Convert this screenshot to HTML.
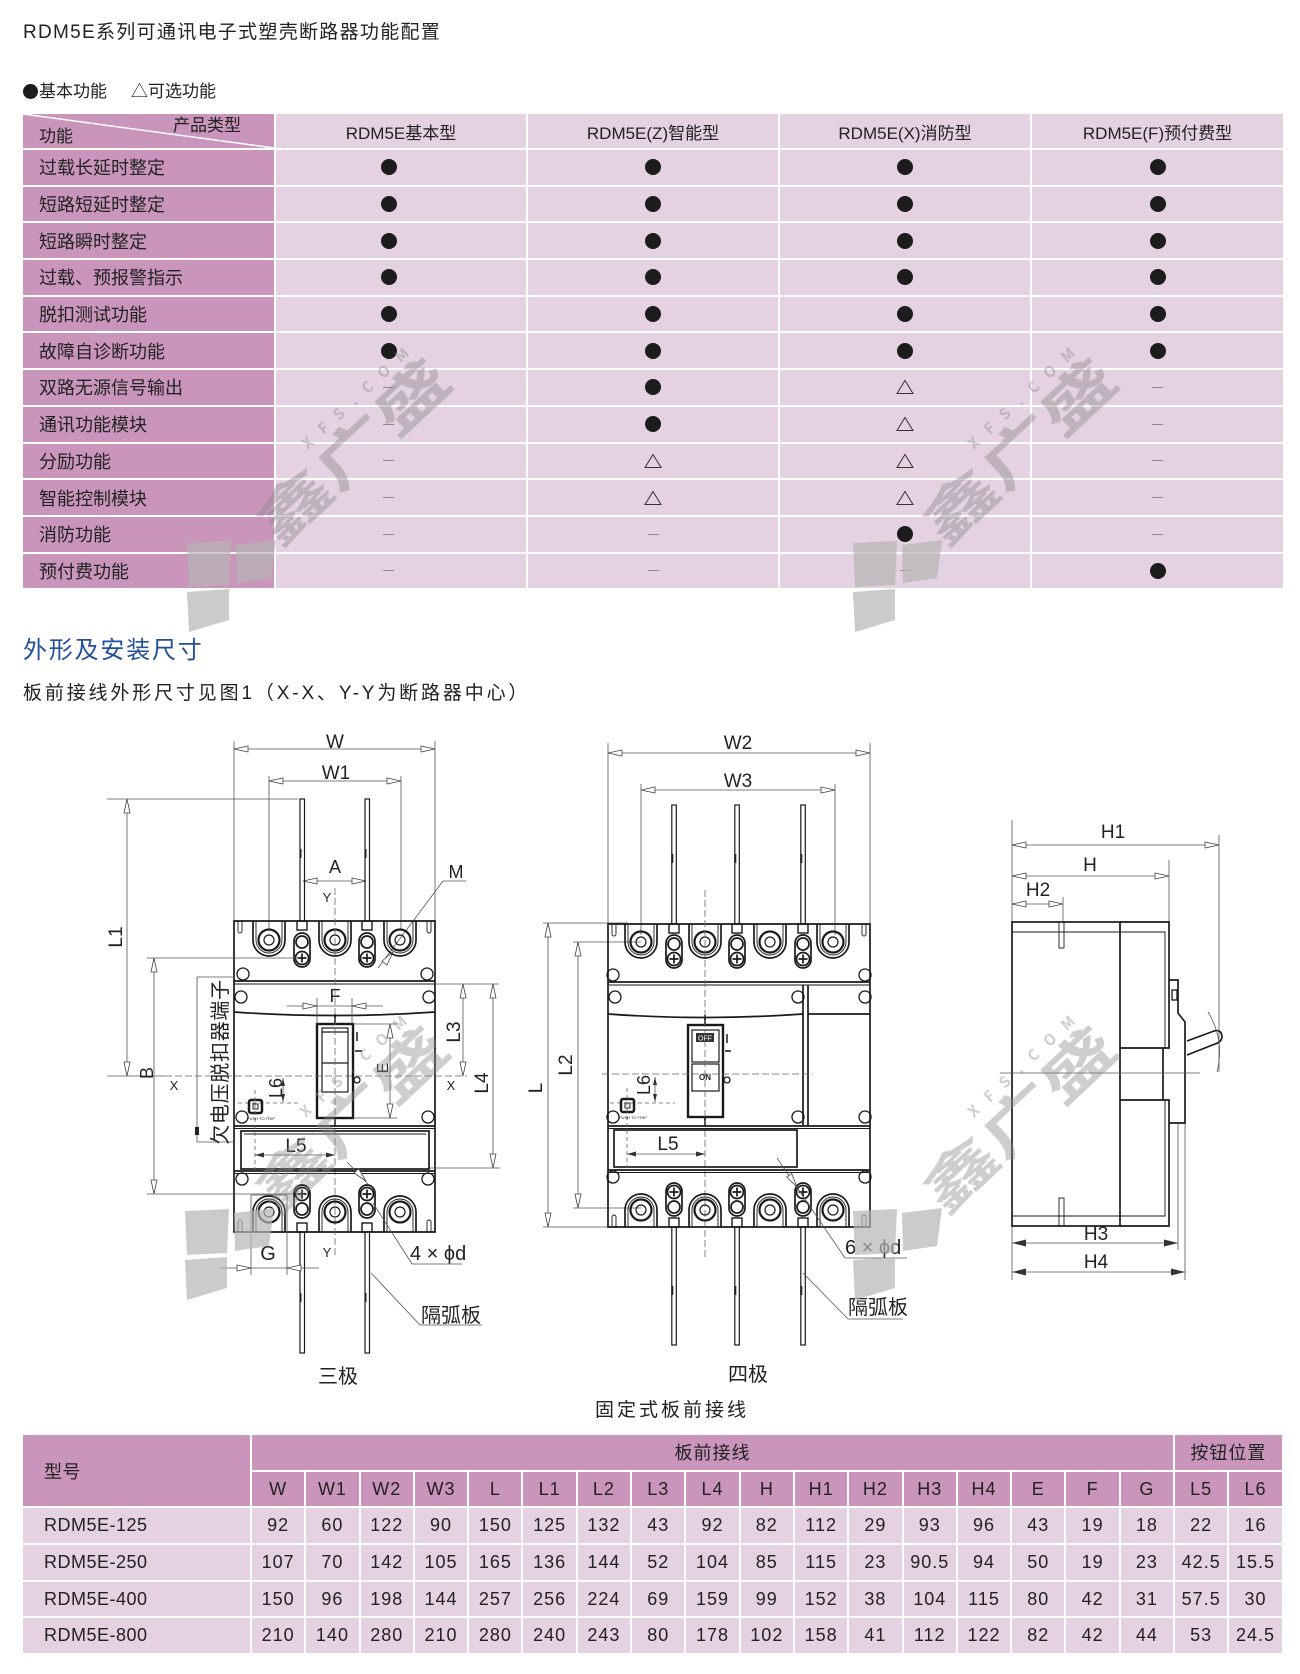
<!DOCTYPE html>
<html><head><meta charset="utf-8">
<style>
*{margin:0;padding:0;box-sizing:border-box}
body{width:1300px;height:1674px;background:#fff;position:relative;overflow:hidden;font-family:"Liberation Sans","Noto Sans CJK SC",sans-serif;color:#222}
.abs{position:absolute;white-space:nowrap}
#t1{position:absolute;left:23px;top:114px;display:grid;grid-template-columns:251px 250px 250px 250px 251px;grid-template-rows:34px repeat(12,34.7px);gap:2px}
#t1>div{background:#e4d1e1;display:flex;align-items:center;justify-content:center;font-size:17px;color:#222}
#t1>div.h{background:#c995ba;justify-content:flex-start;padding-left:16px;font-size:18px}
#t1>div.o{padding-right:25px}
.dot{display:block;width:16px;height:16px;border-radius:50%;background:#1c1c1c}
.ds{display:block;width:11px;height:1px;background:#8a8a8a}
#t2{position:absolute;left:23px;top:1435px;display:grid;grid-template-columns:227px repeat(19,52.3px);grid-template-rows:repeat(6,34.7px);gap:2px}
#t2>div{background:#e4d1e1;display:flex;align-items:center;justify-content:center;font-size:18px;letter-spacing:1px;color:#222}
#t2>div.m{background:#c995ba}
#t2>div.l{justify-content:flex-start;padding-left:21px;letter-spacing:0.5px}
.lgd{display:inline-block;width:15px;height:15px;border-radius:50%;background:#1c1c1c;vertical-align:-2px;margin-right:1px}
</style></head><body>

<div class="abs" style="left:23px;top:23px;font-size:19px;line-height:20px;letter-spacing:1.3px;color:#222">RDM5E系列可通讯电子式塑壳断路器功能配置</div>
<div class="abs" style="left:23px;top:82px;font-size:17px;line-height:20px;color:#222"><span class="lgd"></span>基本功能</div>
<div class="abs" style="left:131px;top:82px;font-size:17px;line-height:20px;color:#222">△可选功能</div>

<div id="t1">
<div class="h" style="position:relative;padding:0">
<svg class="abs" style="left:0;top:0" width="251" height="34"><line x1="0" y1="0" x2="251" y2="34" stroke="#fff" stroke-width="1.5"/></svg>
<span class="abs" style="left:150px;top:2px;font-size:17px;line-height:20px">产品类型</span>
<span class="abs" style="left:16px;top:12px;font-size:17px;line-height:22px">功能</span>
</div>
<div>RDM5E基本型</div><div>RDM5E(Z)智能型</div><div>RDM5E(X)消防型</div><div>RDM5E(F)预付费型</div>

<div class="h">过载长延时整定</div><div class="o"><i class="dot"></i></div><div><i class="dot"></i></div><div><i class="dot"></i></div><div><i class="dot"></i></div>
<div class="h">短路短延时整定</div><div class="o"><i class="dot"></i></div><div><i class="dot"></i></div><div><i class="dot"></i></div><div><i class="dot"></i></div>
<div class="h">短路瞬时整定</div><div class="o"><i class="dot"></i></div><div><i class="dot"></i></div><div><i class="dot"></i></div><div><i class="dot"></i></div>
<div class="h">过载、预报警指示</div><div class="o"><i class="dot"></i></div><div><i class="dot"></i></div><div><i class="dot"></i></div><div><i class="dot"></i></div>
<div class="h">脱扣测试功能</div><div class="o"><i class="dot"></i></div><div><i class="dot"></i></div><div><i class="dot"></i></div><div><i class="dot"></i></div>
<div class="h">故障自诊断功能</div><div class="o"><i class="dot"></i></div><div><i class="dot"></i></div><div><i class="dot"></i></div><div><i class="dot"></i></div>
<div class="h">双路无源信号输出</div><div class="o"><i class="ds"></i></div><div><i class="dot"></i></div><div><svg width="18" height="16"><polygon points="9,1.5 17,14.5 1,14.5" fill="none" stroke="#333" stroke-width="1"/></svg></div><div><i class="ds"></i></div>
<div class="h">通讯功能模块</div><div class="o"><i class="ds"></i></div><div><i class="dot"></i></div><div><svg width="18" height="16"><polygon points="9,1.5 17,14.5 1,14.5" fill="none" stroke="#333" stroke-width="1"/></svg></div><div><i class="ds"></i></div>
<div class="h">分励功能</div><div class="o"><i class="ds"></i></div><div><svg width="18" height="16"><polygon points="9,1.5 17,14.5 1,14.5" fill="none" stroke="#333" stroke-width="1"/></svg></div><div><svg width="18" height="16"><polygon points="9,1.5 17,14.5 1,14.5" fill="none" stroke="#333" stroke-width="1"/></svg></div><div><i class="ds"></i></div>
<div class="h">智能控制模块</div><div class="o"><i class="ds"></i></div><div><svg width="18" height="16"><polygon points="9,1.5 17,14.5 1,14.5" fill="none" stroke="#333" stroke-width="1"/></svg></div><div><svg width="18" height="16"><polygon points="9,1.5 17,14.5 1,14.5" fill="none" stroke="#333" stroke-width="1"/></svg></div><div><i class="ds"></i></div>
<div class="h">消防功能</div><div class="o"><i class="ds"></i></div><div><i class="ds"></i></div><div><i class="dot"></i></div><div><i class="ds"></i></div>
<div class="h">预付费功能</div><div class="o"><i class="ds"></i></div><div><i class="ds"></i></div><div><i class="ds"></i></div><div><i class="dot"></i></div>
</div>

<div class="abs" style="left:23px;top:638px;font-size:24px;line-height:26px;letter-spacing:1.8px;color:#234f9c">外形及安装尺寸</div>
<div class="abs" style="left:23px;top:684px;font-size:19px;line-height:20px;letter-spacing:2.85px;color:#222">板前接线外形尺寸见图1（X-X、Y-Y为断路器中心）</div>

<div id="t2">
<div class="m l" style="grid-row:1/3;grid-column:1">型号</div>
<div class="m" style="grid-row:1;grid-column:2/19">板前接线</div>
<div class="m" style="grid-row:1;grid-column:19/21">按钮位置</div>
<div class="m">W</div><div class="m">W1</div><div class="m">W2</div><div class="m">W3</div><div class="m">L</div><div class="m">L1</div><div class="m">L2</div><div class="m">L3</div><div class="m">L4</div><div class="m">H</div><div class="m">H1</div><div class="m">H2</div><div class="m">H3</div><div class="m">H4</div><div class="m">E</div><div class="m">F</div><div class="m">G</div><div class="m">L5</div><div class="m">L6</div>
<div class="l">RDM5E-125</div><div>92</div><div>60</div><div>122</div><div>90</div><div>150</div><div>125</div><div>132</div><div>43</div><div>92</div><div>82</div><div>112</div><div>29</div><div>93</div><div>96</div><div>43</div><div>19</div><div>18</div><div>22</div><div>16</div>
<div class="l">RDM5E-250</div><div>107</div><div>70</div><div>142</div><div>105</div><div>165</div><div>136</div><div>144</div><div>52</div><div>104</div><div>85</div><div>115</div><div>23</div><div>90.5</div><div>94</div><div>50</div><div>19</div><div>23</div><div>42.5</div><div>15.5</div>
<div class="l">RDM5E-400</div><div>150</div><div>96</div><div>198</div><div>144</div><div>257</div><div>256</div><div>224</div><div>69</div><div>159</div><div>99</div><div>152</div><div>38</div><div>104</div><div>115</div><div>80</div><div>42</div><div>31</div><div>57.5</div><div>30</div>
<div class="l">RDM5E-800</div><div>210</div><div>140</div><div>280</div><div>210</div><div>280</div><div>240</div><div>243</div><div>80</div><div>178</div><div>102</div><div>158</div><div>41</div><div>112</div><div>122</div><div>82</div><div>42</div><div>44</div><div>53</div><div>24.5</div>
</div>

<svg class="abs" style="left:0;top:0" width="1300" height="1674" viewBox="0 0 1300 1674">
<style>
.d{stroke:#555;stroke-width:.8;fill:none}
.b{stroke:#1a1a1a;stroke-width:1.7;fill:none}
.bt{stroke:#1a1a1a;stroke-width:.9;fill:none}
.c{stroke:#666;stroke-width:.8;stroke-dasharray:7 3;fill:none}
.ah{fill:#fff;stroke:#444;stroke-width:.8}
.af{fill:#333}
text{font-family:"Liberation Sans","Noto Sans CJK SC",sans-serif;fill:#222}
.t{font-size:19px}
.s{font-size:13px}
.wm{font-family:"Noto Sans CJK SC","WenQuanYi Zen Hei",sans-serif;font-weight:bold;fill:#8a8a8a;fill-opacity:.42}
.lg{fill:#b5b5b5;fill-opacity:.7}
</style>

<!-- ================= 3-POLE ================= -->
<path class="d" d="M234,741V921M435,741V921M234,749H435"/>
<polygon class="ah" points="234,749 248,746 248,752"/><polygon class="ah" points="435,749 421,746 421,752"/>
<text class="t" x="335" y="748" text-anchor="middle">W</text>
<path class="d" d="M269,776V930M401,776V930M269,781H401"/>
<polygon class="ah" points="269,781 283,778 283,784"/><polygon class="ah" points="401,781 387,778 387,784"/>
<text class="t" x="336" y="779" text-anchor="middle">W1</text>
<path class="d" d="M107,799H298M127,799V1076M107,1076H165"/>
<polygon class="ah" points="127,799 124,813 130,813"/><polygon class="ah" points="127,1076 124,1062 130,1062"/>
<text class="t" transform="translate(122,937) rotate(-90)" text-anchor="middle">L1</text>
<path class="d" d="M303,881H366"/>
<polygon class="ah" points="303,881 317,878 317,884"/><polygon class="ah" points="366,881 352,878 352,884"/>
<text class="t" x="335" y="873" text-anchor="middle" style="font-size:18px">A</text>
<text class="s" x="327" y="902" text-anchor="middle">Y</text>
<text class="t" x="456" y="878" text-anchor="middle" style="font-size:18px">M</text>
<path class="d" d="M443,881H466M443,881L378,968"/>
<polygon class="ah" points="393,952 387,965 382,961"/>
<rect class="bt" x="300" y="799" width="4.5" height="122" fill="#fff" style="stroke-width:1.2"/>
<rect class="bt" x="365" y="799" width="4.5" height="122" fill="#fff" style="stroke-width:1.2"/>
<rect x="299.5" y="849" width="2" height="9" fill="#222"/><rect x="364.5" y="849" width="2" height="9" fill="#222"/>
<path class="b" d="M234,921H435V1232H234Z"/>
<path class="bt" d="M238,921v10a2,2 0 0 0 4,0v-10M427,921v10a2,2 0 0 0 4,0v-10M238,1232v-10a2,2 0 0 1 4,0v10M427,1232v-10a2,2 0 0 1 4,0v10"/>
<path class="b" d="M253,921V940A16,16 0 0 0 285,940V921"/><path class="bt" d="M256,921V940A13,13 0 0 0 282,940V921"/>
<circle class="b" cx="269" cy="940" r="10.5" style="stroke-width:2.2"/><circle class="bt" cx="269" cy="940" r="5" style="stroke-width:1.2"/>
<path class="b" d="M319,921V940A16,16 0 0 0 351,940V921"/><path class="bt" d="M322,921V940A13,13 0 0 0 348,940V921"/>
<circle class="b" cx="335" cy="940" r="10.5" style="stroke-width:2.2"/><circle class="bt" cx="335" cy="940" r="5" style="stroke-width:1.2"/>
<path class="b" d="M384,921V940A16,16 0 0 0 416,940V921"/><path class="bt" d="M387,921V940A13,13 0 0 0 413,940V921"/>
<circle class="b" cx="400" cy="940" r="10.5" style="stroke-width:2.2"/><circle class="bt" cx="400" cy="940" r="5" style="stroke-width:1.2"/>
<rect class="bt" x="297" y="921" width="10" height="9" style="stroke-width:1.4"/><rect class="bt" x="362" y="921" width="10" height="9" style="stroke-width:1.4"/>
<rect class="b" x="294" y="933" width="16" height="34" rx="8"/><circle class="b" cx="302" cy="942" r="6"/><circle class="b" cx="302" cy="958" r="6.5"/><path class="b" d="M297.5,958H306.5M302,953.5V962.5"/>
<rect class="b" x="359" y="933" width="16" height="34" rx="8"/><circle class="b" cx="367" cy="942" r="6"/><circle class="b" cx="367" cy="958" r="6.5"/><path class="b" d="M362.5,958H371.5M367,953.5V962.5"/>
<circle class="bt" cx="243" cy="974" r="6" style="stroke-width:1.3"/><circle class="bt" cx="427" cy="974" r="6" style="stroke-width:1.3"/>
<path class="b" d="M234,981H435"/><path class="bt" d="M234,984H435"/>
<circle class="bt" cx="241" cy="997" r="6" style="stroke-width:1.3"/><circle class="bt" cx="429" cy="997" r="6" style="stroke-width:1.3"/>
<path class="b" d="M234,1012Q335,1019 435,1012"/>
<path class="b" d="M335,1014V1024M335,1118V1127"/>
<rect class="b" x="317" y="1024" width="36" height="94" style="stroke-width:2.4" fill="#fff"/>
<rect class="bt" x="322" y="1028" width="26" height="64" style="stroke-width:1.2"/>
<path class="bt" d="M322,1063H348M322,1032H348" style="stroke-width:1.2"/>
<path class="b" d="M357,1032V1041M355,1051H362" style="stroke-width:1.5"/>
<circle class="bt" cx="357" cy="1080" r="3" style="stroke-width:1.3"/>
<path class="d" d="M317,998V1024M352,998V1024M287,1006H383"/>
<polygon class="ah" points="317,1006 303,1003 303,1009"/><polygon class="ah" points="352,1006 366,1003 366,1009"/>
<text class="t" x="335" y="1002" text-anchor="middle" style="font-size:18px">F</text>
<path class="d" d="M353,1024H397M353,1118H397M390,1024V1118"/>
<polygon class="ah" points="390,1024 387,1038 393,1038"/><polygon class="ah" points="390,1118 387,1104 393,1104"/>
<text class="t" transform="translate(388,1068) rotate(-90)" text-anchor="middle" style="font-size:16px">E</text>
<path class="c" d="M335,888V1257"/>
<path class="c" d="M165,1076H467"/>
<text class="s" x="174" y="1090" text-anchor="middle">X</text>
<text class="s" x="451" y="1090" text-anchor="middle">X</text>
<path class="d" d="M147,958H296M147,1194H300M154,958V1194"/>
<polygon class="ah" points="154,958 151,972 157,972"/><polygon class="ah" points="154,1194 151,1180 157,1180"/>
<text class="t" transform="translate(153,1073) rotate(-90)" text-anchor="middle" style="font-size:18px">B</text>
<path class="d" d="M435,984H499M463,984V1076M493,984V1168M429,1168H500"/>
<polygon class="ah" points="463,984 460,998 466,998"/><polygon class="ah" points="463,1076 460,1062 466,1062"/>
<polygon class="ah" points="493,984 490,998 496,998"/><polygon class="ah" points="493,1168 490,1154 496,1154"/>
<text class="t" transform="translate(460,1032) rotate(-90)" text-anchor="middle">L3</text>
<text class="t" transform="translate(488,1083) rotate(-90)" text-anchor="middle">L4</text>
<path class="d" d="M234,977H197V1142H234"/>
<rect x="195" y="1127" width="4" height="8" fill="#222"/>
<text transform="translate(227,1062) rotate(-90)" text-anchor="middle" style="font-size:20px;letter-spacing:0.7px">欠电压脱扣器端子</text>
<circle class="bt" cx="242" cy="1117" r="6" style="stroke-width:1.3"/><circle class="bt" cx="428" cy="1117" r="6" style="stroke-width:1.3"/>
<path class="b" d="M234,1126H435"/><path class="bt" d="M234,1128.5H435"/>
<rect class="b" x="241" y="1131" width="188" height="38"/>
<path class="bt" d="M244,1134H426"/>
<path class="b" d="M234,1171H435"/><path class="bt" d="M234,1173.5H435"/>
<circle class="bt" cx="242" cy="1179" r="6" style="stroke-width:1.3"/><circle class="bt" cx="428" cy="1179" r="6" style="stroke-width:1.3"/>
<path class="c" d="M238,1103H300" style="stroke-dasharray:4 3"/>
<path class="d" d="M283,1078V1102"/>
<polygon class="af" points="283,1078 281,1086 285,1086"/><polygon class="af" points="283,1102 281,1094 285,1094"/>
<text class="t" transform="translate(282,1088) rotate(-90)" text-anchor="middle" style="font-size:18px">L6</text>
<rect x="249" y="1100" width="13" height="13" rx="2" fill="none" stroke="#1a1a1a" stroke-width="2.5"/>
<rect x="253" y="1104" width="5" height="5" fill="none" stroke="#1a1a1a" stroke-width="1"/>
<text x="247" y="1120" style="font-size:4px">PUSH TO TRIP</text>
<path class="c" d="M255,1090V1170" style="stroke-dasharray:4 3"/>
<path class="d" d="M255,1155H335"/>
<polygon class="af" points="255,1155 264,1152.5 264,1157.5"/><polygon class="af" points="335,1155 326,1152.5 326,1157.5"/>
<text class="t" x="296" y="1152" text-anchor="middle">L5</text>
<path class="d" d="M347,1162L368,1184"/>
<polygon class="ah" points="366,1181 358.5,1168.8 354.1,1173"/>
<path class="b" d="M253,1232V1212A16,16 0 0 1 285,1212V1232"/><path class="bt" d="M256,1232V1212A13,13 0 0 1 282,1212V1232"/>
<circle class="b" cx="269" cy="1212" r="10.5" style="stroke-width:2.2"/><circle class="bt" cx="269" cy="1212" r="5" style="stroke-width:1.2"/>
<path class="b" d="M319,1232V1212A16,16 0 0 1 351,1212V1232"/><path class="bt" d="M322,1232V1212A13,13 0 0 1 348,1212V1232"/>
<circle class="b" cx="335" cy="1212" r="10.5" style="stroke-width:2.2"/><circle class="bt" cx="335" cy="1212" r="5" style="stroke-width:1.2"/>
<path class="b" d="M384,1232V1212A16,16 0 0 1 416,1212V1232"/><path class="bt" d="M387,1232V1212A13,13 0 0 1 413,1212V1232"/>
<circle class="b" cx="400" cy="1212" r="10.5" style="stroke-width:2.2"/><circle class="bt" cx="400" cy="1212" r="5" style="stroke-width:1.2"/>
<rect class="b" x="294" y="1185" width="16" height="33" rx="8"/><circle class="b" cx="302" cy="1194" r="6.5"/><path class="b" d="M297.5,1194H306.5M302,1189.5V1198.5"/><circle class="b" cx="302" cy="1209" r="6"/>
<rect class="b" x="359" y="1185" width="16" height="33" rx="8"/><circle class="b" cx="367" cy="1194" r="6.5"/><path class="b" d="M362.5,1194H371.5M367,1189.5V1198.5"/><circle class="b" cx="367" cy="1209" r="6"/>
<rect class="bt" x="297" y="1223" width="10" height="9" style="stroke-width:1.4"/><rect class="bt" x="362" y="1223" width="10" height="9" style="stroke-width:1.4"/>
<rect class="bt" x="300" y="1232" width="4.5" height="121" fill="#fff" style="stroke-width:1.2"/>
<rect class="bt" x="365" y="1232" width="4.5" height="121" fill="#fff" style="stroke-width:1.2"/>
<rect x="299.5" y="1293" width="2" height="9" fill="#222"/><rect x="364.5" y="1293" width="2" height="9" fill="#222"/>
<path class="d" d="M251,1195V1275M287,1195V1275M251,1195H287M220,1268H319"/>
<polygon class="ah" points="251,1268 237,1265 237,1271"/><polygon class="ah" points="287,1268 301,1265 301,1271"/>
<text class="t" x="268" y="1260" text-anchor="middle" style="font-size:20px">G</text>
<text class="s" x="327" y="1257" text-anchor="middle">Y</text>
<text class="t" x="410" y="1260" style="font-size:20px">4 × ϕd</text>
<path class="d" d="M412,1264H462M412,1264L373,1203"/>
<text class="t" x="421" y="1322" style="font-size:20px">隔弧板</text>
<path class="d" d="M420,1325H482M420,1325L371,1273"/>
<text class="t" x="338" y="1383" text-anchor="middle" style="font-size:20px">三极</text>

<!-- ================= 4-POLE ================= -->
<path class="d" d="M608,743V924M870,743V960M608,753H870"/>
<polygon class="ah" points="608,753 622,750 622,756"/><polygon class="ah" points="870,753 856,750 856,756"/>
<text class="t" x="738" y="749" text-anchor="middle">W2</text>
<path class="d" d="M641,784V935M835,784V935M641,790H835"/>
<polygon class="ah" points="641,790 655,787 655,793"/><polygon class="ah" points="835,790 821,787 821,793"/>
<text class="t" x="738" y="787" text-anchor="middle">W3</text>
<path class="d" d="M543,923H628M548,923V1227M543,1227H610M573,942H641M578,942V1208M573,1208H641"/>
<polygon class="ah" points="548,923 545,937 551,937"/><polygon class="ah" points="548,1227 545,1213 551,1213"/>
<polygon class="ah" points="578,942 575,956 581,956"/><polygon class="ah" points="578,1208 575,1194 581,1194"/>
<text class="t" transform="translate(542,1088) rotate(-90)" text-anchor="middle">L</text>
<text class="t" transform="translate(572,1065) rotate(-90)" text-anchor="middle">L2</text>
<rect class="bt" x="671.8" y="805" width="4.5" height="119" fill="#fff" style="stroke-width:1.2"/>
<rect class="bt" x="734.8" y="805" width="4.5" height="119" fill="#fff" style="stroke-width:1.2"/>
<rect class="bt" x="800.8" y="805" width="4.5" height="119" fill="#fff" style="stroke-width:1.2"/>
<rect x="671.3" y="854" width="2" height="9" fill="#222"/><rect x="734.3" y="854" width="2" height="9" fill="#222"/><rect x="800.3" y="854" width="2" height="9" fill="#222"/>
<path class="b" d="M608,924H870V1227H608Z"/>
<path class="bt" d="M612,924v10a2,2 0 0 0 4,0v-10M862,924v10a2,2 0 0 0 4,0v-10M612,1227v-10a2,2 0 0 1 4,0v10M862,1227v-10a2,2 0 0 1 4,0v10"/>
<path class="b" d="M625,924V942A16,16 0 0 0 657,942V924"/><path class="bt" d="M628,924V942A13,13 0 0 0 654,942V924"/>
<circle class="b" cx="641" cy="942" r="10.5" style="stroke-width:2.2"/><circle class="bt" cx="641" cy="942" r="5" style="stroke-width:1.2"/>
<path class="b" d="M689,924V942A16,16 0 0 0 721,942V924"/><path class="bt" d="M692,924V942A13,13 0 0 0 718,942V924"/>
<circle class="b" cx="705" cy="942" r="10.5" style="stroke-width:2.2"/><circle class="bt" cx="705" cy="942" r="5" style="stroke-width:1.2"/>
<path class="b" d="M754,924V942A16,16 0 0 0 786,942V924"/><path class="bt" d="M757,924V942A13,13 0 0 0 783,942V924"/>
<circle class="b" cx="770" cy="942" r="10.5" style="stroke-width:2.2"/><circle class="bt" cx="770" cy="942" r="5" style="stroke-width:1.2"/>
<path class="b" d="M817,924V942A16,16 0 0 0 849,942V924"/><path class="bt" d="M820,924V942A13,13 0 0 0 846,942V924"/>
<circle class="b" cx="833" cy="942" r="10.5" style="stroke-width:2.2"/><circle class="bt" cx="833" cy="942" r="5" style="stroke-width:1.2"/>
<rect class="bt" x="669" y="924" width="10" height="9" style="stroke-width:1.4"/><rect class="bt" x="732" y="924" width="10" height="9" style="stroke-width:1.4"/><rect class="bt" x="798" y="924" width="10" height="9" style="stroke-width:1.4"/>
<rect class="b" x="666" y="935" width="16" height="33" rx="8"/><circle class="b" cx="674" cy="944" r="6"/><circle class="b" cx="674" cy="959" r="6.5"/><path class="b" d="M669.5,959H678.5M674,954.5V963.5"/>
<rect class="b" x="729" y="935" width="16" height="33" rx="8"/><circle class="b" cx="737" cy="944" r="6"/><circle class="b" cx="737" cy="959" r="6.5"/><path class="b" d="M732.5,959H741.5M737,954.5V963.5"/>
<rect class="b" x="795" y="935" width="16" height="33" rx="8"/><circle class="b" cx="803" cy="944" r="6"/><circle class="b" cx="803" cy="959" r="6.5"/><path class="b" d="M798.5,959H807.5M803,954.5V963.5"/>
<circle class="bt" cx="613" cy="975" r="6" style="stroke-width:1.3"/><circle class="bt" cx="865" cy="975" r="6" style="stroke-width:1.3"/>
<path class="b" d="M608,982H870"/><path class="bt" d="M608,985H870"/>
<circle class="bt" cx="615" cy="997" r="6" style="stroke-width:1.3"/><circle class="bt" cx="798" cy="997" r="6" style="stroke-width:1.3"/><circle class="bt" cx="865" cy="997" r="6" style="stroke-width:1.3"/>
<path class="b" d="M608,1014Q705,1021 803,1014M808,1014H870"/>
<path class="b" d="M803,985V1126M808,985V1126"/>
<path class="b" d="M705,1015V1025M705,1117V1126"/>
<rect class="b" x="688" y="1025" width="35" height="92" style="stroke-width:2.4" fill="#fff"/>
<rect class="bt" x="692" y="1030" width="27" height="32" style="stroke-width:1.2"/>
<rect class="bt" x="692" y="1064" width="27" height="27" style="stroke-width:1.2"/>
<rect x="696" y="1033" width="18" height="9" fill="#333"/>
<text x="705" y="1040.5" text-anchor="middle" style="font-size:7px;fill:#fff">OFF</text>
<text x="705" y="1080" text-anchor="middle" style="font-size:8px;font-weight:bold">ON</text>
<path class="b" d="M727,1034V1043M725,1051H731" style="stroke-width:1.5"/>
<circle class="bt" cx="727" cy="1080" r="3" style="stroke-width:1.3"/>
<path class="c" d="M705,890V1257"/>
<path class="c" d="M602,1074H813"/>
<path class="c" d="M610,1103H675" style="stroke-dasharray:4 3"/>
<path class="d" d="M655,1077V1102"/>
<polygon class="af" points="655,1077 653,1085 657,1085"/><polygon class="af" points="655,1102 653,1094 657,1094"/>
<text class="t" transform="translate(650,1085) rotate(-90)" text-anchor="middle" style="font-size:18px">L6</text>
<rect x="621" y="1099" width="13" height="13" rx="2" fill="none" stroke="#1a1a1a" stroke-width="2.5"/>
<rect x="625" y="1103" width="5" height="5" fill="none" stroke="#1a1a1a" stroke-width="1"/>
<text x="619" y="1119" style="font-size:4px">PUSH TO TRIP</text>
<circle class="bt" cx="613" cy="1117" r="6" style="stroke-width:1.3"/><circle class="bt" cx="798" cy="1117" r="6" style="stroke-width:1.3"/><circle class="bt" cx="865" cy="1117" r="6" style="stroke-width:1.3"/>
<path class="b" d="M608,1126H870"/><path class="bt" d="M608,1128.5H870"/>
<rect class="b" x="614" y="1130" width="183" height="37"/>
<path class="c" d="M627,1088V1168" style="stroke-dasharray:4 3"/>
<path class="d" d="M627,1154H705"/>
<polygon class="af" points="627,1154 636,1151.5 636,1156.5"/><polygon class="af" points="705,1154 696,1151.5 696,1156.5"/>
<text class="t" x="668" y="1150" text-anchor="middle">L5</text>
<path class="b" d="M608,1170H870"/><path class="bt" d="M608,1172.5H870"/>
<circle class="bt" cx="613" cy="1177" r="6" style="stroke-width:1.3"/><circle class="bt" cx="865" cy="1177" r="6" style="stroke-width:1.3"/>
<path class="b" d="M625,1227V1210A16,16 0 0 1 657,1210V1227"/><path class="bt" d="M628,1227V1210A13,13 0 0 1 654,1210V1227"/>
<circle class="b" cx="641" cy="1210" r="10.5" style="stroke-width:2.2"/><circle class="bt" cx="641" cy="1210" r="5" style="stroke-width:1.2"/>
<path class="b" d="M689,1227V1210A16,16 0 0 1 721,1210V1227"/><path class="bt" d="M692,1227V1210A13,13 0 0 1 718,1210V1227"/>
<circle class="b" cx="705" cy="1210" r="10.5" style="stroke-width:2.2"/><circle class="bt" cx="705" cy="1210" r="5" style="stroke-width:1.2"/>
<path class="b" d="M754,1227V1210A16,16 0 0 1 786,1210V1227"/><path class="bt" d="M757,1227V1210A13,13 0 0 1 783,1210V1227"/>
<circle class="b" cx="770" cy="1210" r="10.5" style="stroke-width:2.2"/><circle class="bt" cx="770" cy="1210" r="5" style="stroke-width:1.2"/>
<path class="b" d="M817,1227V1210A16,16 0 0 1 849,1210V1227"/><path class="bt" d="M820,1227V1210A13,13 0 0 1 846,1210V1227"/>
<circle class="b" cx="833" cy="1210" r="10.5" style="stroke-width:2.2"/><circle class="bt" cx="833" cy="1210" r="5" style="stroke-width:1.2"/>
<rect class="b" x="666" y="1183" width="16" height="33" rx="8"/><circle class="b" cx="674" cy="1192" r="6.5"/><path class="b" d="M669.5,1192H678.5M674,1187.5V1196.5"/><circle class="b" cx="674" cy="1207" r="6"/>
<rect class="b" x="729" y="1183" width="16" height="33" rx="8"/><circle class="b" cx="737" cy="1192" r="6.5"/><path class="b" d="M732.5,1192H741.5M737,1187.5V1196.5"/><circle class="b" cx="737" cy="1207" r="6"/>
<rect class="b" x="795" y="1183" width="16" height="33" rx="8"/><circle class="b" cx="803" cy="1192" r="6.5"/><path class="b" d="M798.5,1192H807.5M803,1187.5V1196.5"/><circle class="b" cx="803" cy="1207" r="6"/>
<rect class="bt" x="669" y="1218" width="10" height="9" style="stroke-width:1.4"/><rect class="bt" x="732" y="1218" width="10" height="9" style="stroke-width:1.4"/><rect class="bt" x="798" y="1218" width="10" height="9" style="stroke-width:1.4"/>
<rect class="bt" x="671.8" y="1227" width="4.5" height="118" fill="#fff" style="stroke-width:1.2"/>
<rect class="bt" x="734.8" y="1227" width="4.5" height="118" fill="#fff" style="stroke-width:1.2"/>
<rect class="bt" x="800.8" y="1227" width="4.5" height="118" fill="#fff" style="stroke-width:1.2"/>
<rect x="671.3" y="1286" width="2" height="9" fill="#222"/><rect x="734.3" y="1286" width="2" height="9" fill="#222"/><rect x="800.3" y="1286" width="2" height="9" fill="#222"/>
<path class="d" d="M777,1158L845,1258H907"/>
<polygon class="ah" points="797,1187 791.7,1173.7 786.7,1177.1"/>
<text class="t" x="845" y="1254" style="font-size:20px">6 × ϕd</text>
<text class="t" x="848" y="1314" style="font-size:20px">隔弧板</text>
<path class="d" d="M848,1319H903M848,1319L803,1273"/>
<text class="t" x="748" y="1381" text-anchor="middle" style="font-size:20px">四极</text>
<text class="t" x="595" y="1416" style="font-size:19px;letter-spacing:3px">固定式板前接线</text>

<!-- ================= SIDE VIEW ================= -->
<path class="d" d="M1012,820V1280M1219,835V1072M1012,845H1219"/>
<polygon class="ah" points="1012,845 1026,842 1026,848"/><polygon class="ah" points="1219,845 1205,842 1205,848"/>
<text class="t" x="1113" y="838" text-anchor="middle">H1</text>
<path class="d" d="M1169,860V922M1012,876H1169"/>
<polygon class="ah" points="1012,876 1026,873 1026,879"/><polygon class="ah" points="1169,876 1155,873 1155,879"/>
<text class="t" x="1090" y="871" text-anchor="middle">H</text>
<path class="d" d="M1063,897V922M1012,904H1063"/>
<polygon class="ah" points="1012,904 1026,901 1026,907"/><polygon class="ah" points="1063,904 1049,901 1049,907"/>
<text class="t" x="1038" y="896" text-anchor="middle">H2</text>
<rect class="b" x="1012" y="922" width="108" height="304"/>
<path class="bt" d="M1012,932H1120M1012,1216H1120"/>
<path class="b" d="M1120,922H1169V1048H1120M1120,1048H1163V1100H1120M1120,1100H1169V1226H1120"/>
<path class="bt" d="M1120,932H1165V1048M1165,1100V1216H1120"/>
<path class="b" d="M1169,980H1178V1013L1185,1022V1123H1169"/>
<rect class="bt" x="1172" y="990" width="5" height="10" style="stroke-width:1.3"/>
<path class="b" d="M1187,1041L1214,1031Q1221,1029 1222,1036Q1222,1042 1215,1044L1187,1055"/>
<path class="d" d="M1208,1012Q1225,1040 1217,1072"/>
<path class="d" d="M1000,1073H1200"/>
<rect class="bt" x="1059" y="922" width="5" height="26"/>
<rect class="bt" x="1059" y="1198" width="5" height="28"/>
<path class="d" d="M1178,1123V1250M1185,1123V1280M1012,1243H1178M1012,1272H1185"/>
<polygon class="af" points="1012,1243 1026,1239.5 1026,1246.5"/><polygon class="af" points="1178,1243 1164,1239.5 1164,1246.5"/>
<polygon class="af" points="1012,1272 1026,1268.5 1026,1275.5"/><polygon class="af" points="1185,1272 1171,1268.5 1171,1275.5"/>
<text class="t" x="1096" y="1240" text-anchor="middle">H3</text>
<text class="t" x="1096" y="1268" text-anchor="middle">H4</text>

<!-- ================= WATERMARKS ================= -->
<g>
<polygon class="lg" points="853,543 897,541 895,585 855,587"/>
<polygon class="lg" points="902,545 942,540 937,578 903,583"/>
<polygon class="lg" points="853,592 895,589 895,620 855,632"/>
<g transform="translate(945,548) rotate(-43)">
<text class="wm" x="0" y="0" style="font-size:56px" textLength="240" lengthAdjust="spacingAndGlyphs">鑫广盛</text>
<text class="wm" x="88" y="-52" style="font-size:15px" textLength="140">XFS.COM</text>
</g>
</g>
<g transform="translate(-666,0)">
<polygon class="lg" points="853,543 897,541 895,585 855,587"/>
<polygon class="lg" points="902,545 942,540 937,578 903,583"/>
<polygon class="lg" points="853,592 895,589 895,620 855,632"/>
<g transform="translate(945,548) rotate(-43)">
<text class="wm" x="0" y="0" style="font-size:56px" textLength="240" lengthAdjust="spacingAndGlyphs">鑫广盛</text>
<text class="wm" x="88" y="-52" style="font-size:15px" textLength="140">XFS.COM</text>
</g>
</g>
<g transform="translate(-668,668)">
<polygon class="lg" points="853,543 897,541 895,585 855,587"/>
<polygon class="lg" points="902,545 942,540 937,578 903,583"/>
<polygon class="lg" points="853,592 895,589 895,620 855,632"/>
<g transform="translate(945,548) rotate(-43)">
<text class="wm" x="0" y="0" style="font-size:56px" textLength="240" lengthAdjust="spacingAndGlyphs">鑫广盛</text>
<text class="wm" x="88" y="-52" style="font-size:15px" textLength="140">XFS.COM</text>
</g>
</g>
<g transform="translate(0,668)">
<polygon class="lg" points="853,543 897,541 895,585 855,587"/>
<polygon class="lg" points="902,545 942,540 937,578 903,583"/>
<polygon class="lg" points="853,592 895,589 895,620 855,632"/>
<g transform="translate(945,548) rotate(-43)">
<text class="wm" x="0" y="0" style="font-size:56px" textLength="240" lengthAdjust="spacingAndGlyphs">鑫广盛</text>
<text class="wm" x="88" y="-52" style="font-size:15px" textLength="140">XFS.COM</text>
</g>
</g>
</svg>
</body></html>
